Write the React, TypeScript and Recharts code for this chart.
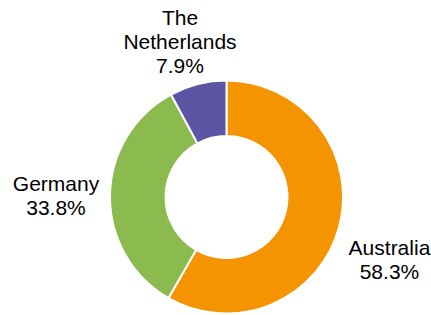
import React from 'react';
import { PieChart, Pie, Cell } from 'recharts';

const countries = ['Australia', 'Germany', 'The Netherlands'];
const shares = [58.3, 33.8, 7.9];
const colors = ['#F39400', '#8BBB4E', '#5B55A3'];

// label lines as drawn (Excel-style wrapping)
const labelLines: Record<string, string[]> = {
  Australia: ['Australia'],
  Germany: ['Germany'],
  'The Netherlands': ['The', 'Netherlands'],
};

// small per-label nudges so the text sits where the original placed it
const labelNudge: Record<string, { r: number; a: number }> = {
  Australia: { r: 58, a: -6 },
  Germany: { r: 54, a: 0 },
  'The Netherlands': { r: 46, a: 2.4 },
};

const data = countries.map((name, i) => ({ name, value: shares[i] }));

const RADIAN = Math.PI / 180;

const renderLabel = (props: any) => {
  const { cx, cy, midAngle, outerRadius, name, value } = props;
  const nudge = labelNudge[name] || { r: 50, a: 0 };
  const r = outerRadius + nudge.r;
  const ang = (midAngle + nudge.a) * RADIAN;
  const x = cx + r * Math.cos(ang);
  const y = cy - r * Math.sin(ang);
  const lines = [...(labelLines[name] || [name]), `${value.toFixed(1)}%`];
  const lineH = 24;
  const startY = y - ((lines.length - 1) * lineH) / 2;
  return (
    <text
      x={x}
      y={startY}
      textAnchor="middle"
      dominantBaseline="central"
      fontFamily="'Liberation Sans', Arial, sans-serif"
      fontSize={21}
      fill="#000"
    >
      {lines.map((l, i) => (
        <tspan key={i} x={x} dy={i === 0 ? 0 : lineH}>
          {l}
        </tspan>
      ))}
    </text>
  );
};

export default function App() {
  return (
    <div style={{ position: 'absolute', left: 0, top: 0 }}>
      <PieChart width={431} height={315} margin={{ top: 0, right: 0, bottom: 0, left: 0 }}>
        <Pie
          data={data}
          dataKey="value"
          nameKey="name"
          cx={226.5}
          cy={197}
          outerRadius={116.5}
          innerRadius={61}
          startAngle={90}
          endAngle={-270}
          stroke="#fff"
          strokeWidth={2}
          label={renderLabel}
          labelLine={false}
          isAnimationActive={false}
        >
          {data.map((d, i) => (
            <Cell key={d.name} fill={colors[i]} />
          ))}
        </Pie>
      </PieChart>
    </div>
  );
}
